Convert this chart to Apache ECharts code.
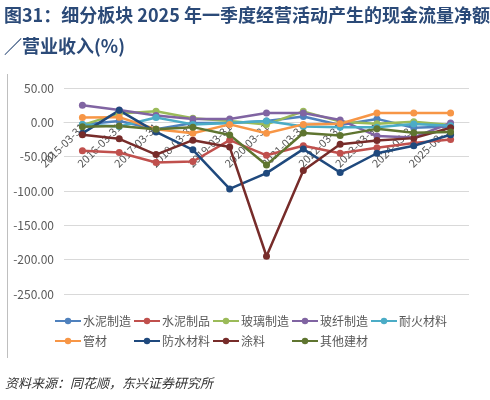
<!DOCTYPE html>
<html>
<head>
<meta charset="utf-8">
<script src="https://cdn.jsdelivr.net/npm/echarts@6/dist/echarts.min.js"></script>
<style>
html,body{margin:0;padding:0;background:#fff;}
#c{width:490px;height:400px;}
</style>
</head>
<body>
<div id="c"></div>
<script>
const categories = ['2015-03-31','2016-03-31','2017-03-31','2018-03-31','2019-03-31','2020-03-31','2021-03-31','2022-03-31','2023-03-31','2024-03-31','2025-03-31'];
const yTicks = [50, 0, -50, -100, -150, -200, -250];

const cementMaking   = [-3, 2, -10, -1, -1, 2, 8.5, -4, 5, -8, -6];        // 水泥制造
const cementProducts = [-41.5, -44, -58.5, -57, -26, -48, -34, -45, -37, -30, -25]; // 水泥制品
const glassMaking    = [-4, 13, 16, 6, 2, -3, 16, 1, -2, 1, -4];          // 玻璃制造
const fiberglass     = [25, 18, 10, 5, 5, 13.5, 13.5, 3.5, -20, -22, -1];  // 玻纤制造
const refractory     = [-3, -6, 7, -3, -1, 2, -6, -7, -7, -2.5, -5];      // 耐火材料
const pipes          = [7, 7.5, -10, -16, -3, -16, -3, -2, 13.5, 13.5, 13.5]; // 管材
const waterproof     = [-16, 17.5, -14, -40, -97, -74, -39, -73, -45, -34, -18]; // 防水材料
const coatings       = [-18, -24, -47, -26, -36, -195, -70, -32, -26.5, -23, -8]; // 涂料
const otherMaterials = [-6.5, -5.5, -10, -7, -18.5, -62, -15.5, -19, -9.5, -15, -14]; // 其他建材

const seriesDefs = [
  ['水泥制造', cementMaking, '#4F81BD'],
  ['水泥制品', cementProducts, '#C0504D'],
  ['玻璃制造', glassMaking, '#9BBB59'],
  ['玻纤制造', fiberglass, '#8064A2'],
  ['耐火材料', refractory, '#4BACC6'],
  ['管材', pipes, '#F79646'],
  ['防水材料', waterproof, '#1F497D'],
  ['涂料', coatings, '#772C2A'],
  ['其他建材', otherMaterials, '#5F7530']
];

const legendCols = [
  ['水泥制造','管材'],
  ['水泥制品','防水材料'],
  ['玻璃制造','涂料'],
  ['玻纤制造','其他建材'],
  ['耐火材料']
];

const FONT = '"Noto Sans CJK SC", "Liberation Sans", sans-serif';
const GRID_TOP = 88, GRID_H = 206;
const yMin = yTicks[yTicks.length - 1], yMax = yTicks[0];
const zeroOffset = -GRID_H * (0 - yMin) / (yMax - yMin);

const chart = echarts.init(document.getElementById('c'), null, {renderer:'canvas'});

const legends = legendCols.map((col, i) => ({
  data: col,
  orient: 'vertical',
  left: 49 + 79 * i,
  top: 310,
  itemGap: 8,
  itemWidth: 26,
  itemHeight: 8,
  textStyle: {fontFamily: FONT, fontSize: 12, color: '#595959', padding:[0,0,0,-3]},
  selectedMode: false
}));

chart.setOption({
  backgroundColor: '#fff',
  animation: false,
  textStyle: {fontFamily: FONT},
  title: {
    text: '图31：细分板块 2025 年一季度经营活动产生的现金流量净额\n／营业收入(%)',
    left: 4,
    top: 0,
    padding: 0,
    textStyle: {fontFamily: FONT, fontSize: 18, fontWeight: 'bold', color: '#2B4A78', lineHeight: 31}
  },
  legend: legends,
  grid: {left: 64, right: 21, top: GRID_TOP, height: GRID_H, containLabel: false},
  xAxis: {
    type: 'category',
    data: categories,
    boundaryGap: true,
    position: 'bottom',
    offset: zeroOffset,
    axisLine: {onZero: false, lineStyle: {color: '#d9d9d9'}},
    axisTick: {show: false},
    axisLabel: {rotate: 45, fontSize: 11, color: '#595959', margin: 3, interval: 0, fontFamily: FONT},
    z: 10
  },
  yAxis: {
    type: 'value',
    min: yMin,
    max: yMax,
    interval: 50,
    axisLine: {show: false},
    axisTick: {show: false},
    splitLine: {lineStyle: {color: '#d9d9d9', width: 1}},
    axisLabel: {formatter: v => v.toFixed(2), fontSize: 12, color: '#595959', margin: 10, fontFamily: FONT}
  },
  series: seriesDefs.map(([name, data, color]) => ({
    name: name,
    type: 'line',
    data: data,
    symbol: 'circle',
    symbolSize: 7,
    lineStyle: {width: 2.5, color: color},
    itemStyle: {color: color},
    emphasis: {disabled: true},
    z: 20
  })),
  graphic: [
    {type: 'line', shape: {x1: 7.5, y1: 74, x2: 7.5, y2: 358}, style: {stroke: '#bfbfbf', lineWidth: 1}},
    {type: 'text', left: 5, top: 377, style: {text: '资料来源：同花顺，东兴证券研究所', font: 'italic 13px "Noto Sans CJK SC"', fill: '#333'}}
  ]
});
</script>
</body>
</html>
